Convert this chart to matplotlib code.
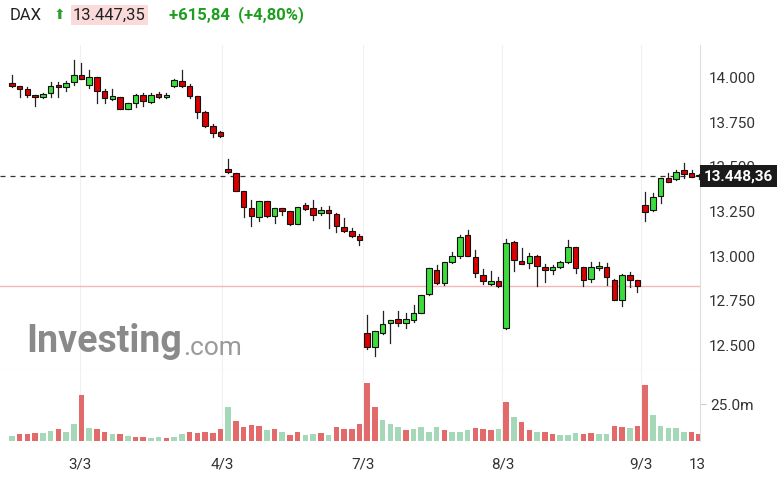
import matplotlib
matplotlib.use("Agg")
import matplotlib.pyplot as plt
from matplotlib.patches import Rectangle

opens = [13970,13957,13936,13906,13891,13918,13963,13948,13976,14017,13959,14004,13925,13884,13891,13828,13858,13904,13867,13908,13891,
         13955,13983,13955,13899,13809,13728,13697,13487,13464,13367,13268,13221,13307,13225,13268,13251,13180,13285,13268,13240,13260,13234,13161,13140,13114,
         12566,12491,12569,12622,12644,12625,12640,12682,12786,12921,12850,12968,13000,13118,12993,12893,12843,12860,12594,13077,12972,12963,13000,12936,12921,12940,12964,13049,12936,12871,12931,12936,12865,12753,12893,12865,
         13286,13258,13337,13436,13431,13483,13464,13455]
closes = [13955,13940,13904,13891,13908,13955,13948,13970,14017,13996,14004,13925,13886,13899,13828,13858,13904,13871,13904,13891,13906,
          13989,13955,13899,13807,13730,13689,13676,13470,13363,13273,13225,13307,13225,13268,13251,13180,13273,13266,13230,13260,13240,13169,13140,13112,13090,
          12491,12579,12616,12640,12625,12644,12678,12781,12931,12846,12964,12999,13109,13002,12903,12860,12860,12833,13075,12978,12955,13000,12944,12921,12936,12964,13049,12934,12865,12936,12946,12880,12753,12893,12865,12831,
          13249,13330,13436,13418,13474,13461,13446,13448]
highs = [14017,13957,13951,13906,13918,13979,13979,13985,14101,14086,14045,14007,13936,13936,13895,13858,13910,13914,13918,13923,13918,
         13992,14045,13966,13899,13813,13742,13700,13547,13464,13367,13315,13307,13307,13268,13268,13251,13277,13296,13315,13273,13281,13240,13213,13155,13124,
         12669,12579,12693,12640,12693,12678,12725,12781,12931,12949,12968,13024,13118,13146,13034,12925,12918,12880,13094,13086,13047,13015,13006,12955,12949,12972,13090,13049,12940,12968,12968,12959,12869,12897,12912,12865,
         13361,13356,13436,13464,13483,13521,13483,13461]
lows = [13948,13891,13891,13843,13886,13891,13891,13929,13963,13996,13942,13858,13861,13876,13824,13824,13835,13843,13861,13886,13886,
        13951,13948,13886,13773,13727,13667,13670,13464,13363,13221,13169,13198,13221,13187,13232,13176,13180,13258,13202,13228,13157,13137,13135,13105,13064,
        12476,12438,12560,12513,12607,12594,12631,12678,12781,12843,12837,12963,12987,13000,12880,12841,12837,12824,12588,12918,12955,12931,12831,12856,12899,12931,12963,12906,12831,12856,12921,12837,12753,12719,12828,12800,
        13197,13255,13296,13418,13427,13436,13442,13431]
volumes = [3.3,4.5,4.5,5.1,5.1,6.7,7.8,6.0,11.8,31.2,8.9,7.8,6.0,4.5,4.5,3.3,2.7,2.7,2.2,2.7,1.8,2.7,4.5,6.0,5.6,6.3,5.6,8.3,22.8,13.8,
           9.4,10.5,10.0,7.4,7.8,6.0,3.8,6.0,3.8,4.5,5.1,3.8,9.4,7.8,7.8,11.8,39.5,22.8,14.5,11.2,9.6,7.1,7.8,9.4,6.0,9.4,7.1,6.3,6.0,7.1,
           8.5,7.8,7.1,8.3,26.1,16.1,12.7,7.1,6.3,6.3,4.5,3.8,3.8,5.1,4.5,5.1,4.5,4.5,10.0,9.4,8.5,10.0,37.9,17.9,10.0,8.5,8.5,6.3,6.3,4.5]
vol_up = [1,0,0,0,1,1,0,1,1,0,1,0,0,1,0,1,0,0,1,1,0,1,1,0,0,0,0,0,1,0,
          0,0,0,1,0,1,0,0,1,1,0,1,0,0,0,0,0,0,1,1,1,0,1,1,1,1,0,1,1,1,
          0,0,0,1,0,1,0,0,1,0,0,1,1,1,0,0,1,1,0,0,1,0,0,1,1,1,1,1,0,0]
x_ticks = [8.8, 27.2, 45.5, 63.5, 81.5, 88.8]
x_labels = ["3/3", "4/3", "7/3", "8/3", "9/3", "13"]
price_ticks = [12500, 12750, 13000, 13250, 13500, 13750, 14000]
price_labels = ["12.500", "12.750", "13.000", "13.250", "13.500", "13.750", "14.000"]
last_price = 13448.36
prev_close = 12831.5

plt.rcParams['font.family'] = ['Roboto', 'DejaVu Sans']
fig = plt.figure(figsize=(7.8, 4.78), dpi=100)
W, H = 780, 478
axp = fig.add_axes([0, (H-370)/H, 700/W, (370-45)/H])
axv = fig.add_axes([0, (H-441)/H, 700/W, (441-370)/H])
xl = (-1.55, 89.1)
GREEN, RED = '#3ddc3d', '#d80000'
for i, (o, c, h, l) in enumerate(zip(opens, closes, highs, lows)):
    col = GREEN if c >= o else RED
    axp.plot([i, i], [l, h], color='#222222', lw=0.9, zorder=2)
    lo, hi = min(o, c), max(o, c)
    axp.add_patch(Rectangle((i-0.36, lo), 0.72, max(hi-lo, 4), facecolor=col, edgecolor='#111111', lw=0.8, zorder=3))
axp.axhline(last_price, color='#333333', lw=0.9, ls=(0, (4, 4)), zorder=1)
axp.axhline(prev_close, color='#f4b6b6', lw=1.0, zorder=1)
axp.set_xlim(*xl)
axp.set_ylim(12360, 14185)
axp.yaxis.tick_right()
axp.set_yticks(price_ticks, price_labels)
axp.tick_params(axis='y', length=0, labelsize=11, colors='#333333', pad=6)
axp.set_xticks([])
for t in x_ticks[:5]:
    axp.axvline(t, color='#f0f0f0', lw=0.8, zorder=0)
    axv.axvline(t, color='#f0f0f0', lw=0.8, zorder=0)
for s in ['top', 'left']:
    axp.spines[s].set_visible(False)
axp.spines['right'].set_color('#dddddd')
axp.spines['bottom'].set_color('#cccccc')
axp.text(1.005, (last_price-12360)/(14185-12360), "13.448,36", transform=axp.transAxes,
         ha='left', va='center', fontsize=11, color='white', fontweight='bold',
         bbox=dict(boxstyle='square,pad=0.25', fc='#1a1a1a', ec='none'), clip_on=False)
axp.text(0.038, 0.03, "Investing", transform=axp.transAxes, fontsize=27, fontweight='bold', color='#8a8a8a', ha='left', va='bottom')
axp.text(0.262, 0.03, ".com", transform=axp.transAxes, fontsize=19, color='#9a9a9a', ha='left', va='bottom')

vc = ['#a5d8b8' if u else '#e36a6a' for u in vol_up]
axv.bar(range(len(volumes)), volumes, width=0.72, color=vc)
axv.set_xlim(*xl)
axv.set_ylim(0, 48)
axv.yaxis.tick_right()
axv.set_yticks([25], ["25.0m"])
axv.tick_params(axis='y', length=4, color='#cccccc', labelsize=11, labelcolor='#333333')
axv.set_xticks(x_ticks, x_labels)
axv.tick_params(axis='x', length=0, labelsize=11, labelcolor='#333333', pad=12)
for s in ['top', 'left', 'bottom']:
    axv.spines[s].set_visible(False)
axv.spines['right'].set_color('#dddddd')

fig.text(10/W, 1-15/H, "DAX", fontsize=12, color='#222222', va='center')
fig.text(54/W, 1-15/H, "\u2b06", fontsize=10, color='#2ca02c', va='center', family=['DejaVu Sans'])
fig.text(73/W, 1-15/H, "13.447,35", fontsize=12, color='#222222', va='center',
         bbox=dict(boxstyle='square,pad=0.15', fc='#fbdada', ec='none'))
fig.text(169/W, 1-15/H, "+615,84  (+4,80%)", fontsize=12, color='#1e9e1e', va='center', fontweight='bold')
fig.savefig("out.png", dpi=100, facecolor='white')
